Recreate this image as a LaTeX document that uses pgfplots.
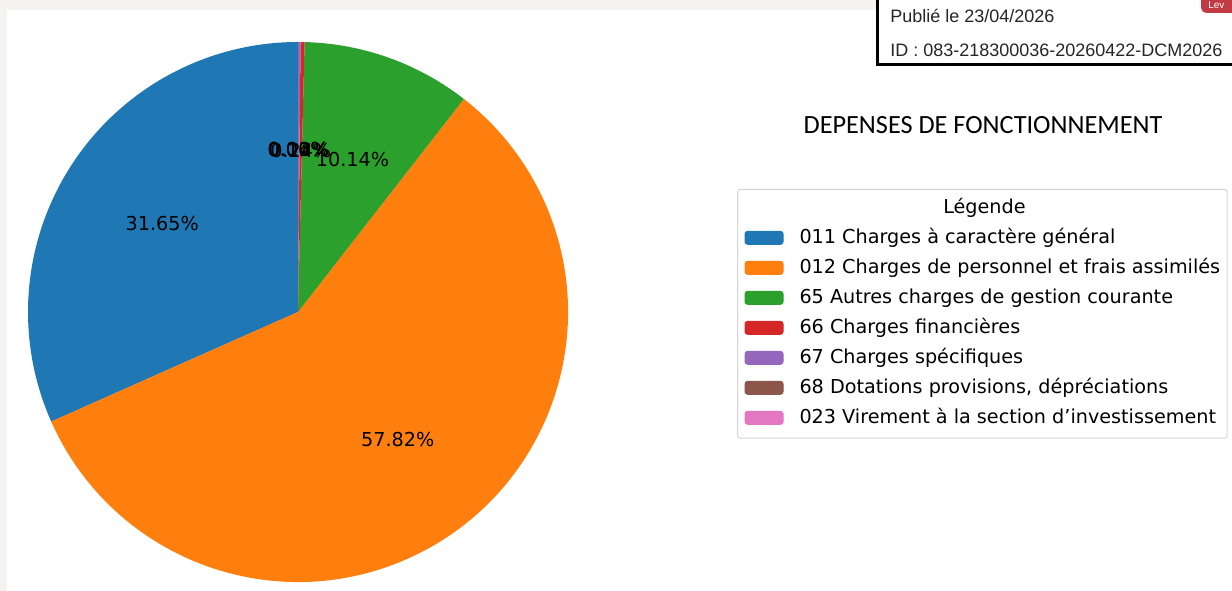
\documentclass[border=0pt]{standalone}
\usepackage{fontspec}
\setmainfont{DejaVu Sans}
\newfontfamily\carlito{Carlito}
\newfontfamily\libsans{Liberation Sans}
\usepackage{pgfplots}
\usepackage{pgfplotstable}
\pgfplotsset{compat=1.18}
\pgfkeys{/pgf/number format/assume math mode=true}

\definecolor{c0}{HTML}{1F77B4}
\definecolor{c1}{HTML}{FF7F0E}
\definecolor{c2}{HTML}{2CA02C}
\definecolor{c3}{HTML}{D62728}
\definecolor{c4}{HTML}{9467BD}
\definecolor{c5}{HTML}{8C564B}
\definecolor{c6}{HTML}{E377C2}
\definecolor{pagegray}{HTML}{F4F3F1}
\definecolor{badgered}{HTML}{C23A44}
\definecolor{legframe}{HTML}{D6D6D6}

% shares (%) of each chapter, in legend order
\pgfplotstableread{
pct
31.65
57.82
10.14
0.24
0.14
0.00
0.01
}\piedata

\begin{document}
\begin{tikzpicture}[x=0.75pt,y=0.75pt]
\useasboundingbox (0,0) rectangle (1232,591);
\fill[pagegray] (0,0) rectangle (1232,591);
\fill[white] (7,0) rectangle (1232,581);

% watermark box
\draw[black, line width=2.25pt, fill=white] (877,591-64.5) rectangle (1245,600);
\fill[badgered, rounded corners=4pt] (1201,591-13) rectangle (1250,600);
\node[anchor=base west, inner sep=0pt, text=white, font=\libsans\fontsize{7.5}{8}\selectfont] at (1208,591-9) {Lev};
\node[anchor=base west, inner sep=0pt, font=\libsans\fontsize{13.5}{16}\selectfont, text=black!85] at (890,591-22.5) {Publié le 23/04/2026};
\node[anchor=base west, inner sep=0pt, font=\libsans\fontsize{13.5}{16}\selectfont, text=black!85] at (890,591-57) {ID : 083-218300036-20260422-DCM2026};

% title
\node[font=\carlito\fontsize{19.7}{24}\selectfont, inner sep=0pt] at (983,591-125) {DEPENSES DE FONCTIONNEMENT};

\begin{axis}[
  at={(223.5pt,209.25pt)}, anchor=center,
  scale only axis, width=405pt, height=405pt,
  xmin=-1, xmax=1, ymin=-1, ymax=1,
  hide axis, clip=false,
  legend cell align=left,
  legend style={
    at={(1.3130,0.7278)}, anchor=north west,
    draw=legframe, line width=0.75pt, fill=white, rounded corners=2pt,
    inner xsep=5.25pt, inner ysep=7.2pt,
    font=\fontsize{14.4}{17}\selectfont,
    column sep=12pt, row sep=7.9pt,
    nodes={inner sep=0pt, text height=11pt, text depth=3.6pt},
  },
]
\pgfplotsextra{
  \pgfplotstablegetrowsof{\piedata}
  \pgfmathtruncatemacro\lastrow{\pgfplotsretval-1}
  \xdef\angA{90}
  \foreach \i in {0,...,\lastrow}{
    \pgfplotstablegetelem{\i}{pct}\of\piedata
    \pgfmathsetmacro\angB{\angA+3.6*\pgfplotsretval}
    \fill[c\i] (axis cs:0,0) -- ++(\angA:202.5pt) arc[start angle=\angA, end angle=\angB, radius=202.5pt] -- cycle;
    \xdef\angA{\angB}
  }
  \xdef\angA{90}
  \foreach \i in {0,...,\lastrow}{
    \pgfplotstablegetelem{\i}{pct}\of\piedata
    \let\v\pgfplotsretval
    \pgfmathsetmacro\angB{\angA+3.6*\v}
    \pgfmathsetmacro\angM{(\angA+\angB)/2}
    \node[font=\fontsize{14.4}{17}\selectfont, inner sep=0pt] at ([shift={(\angM:121.5pt)}]axis cs:0,0)
      {\pgfmathprintnumber[fixed,fixed zerofill,precision=2]{\v}\%};
    \xdef\angA{\angB}
  }
}
\addlegendimage{empty legend}
\addlegendentry{\hspace*{107.8pt}Légende}
\addlegendimage{legend image code/.code={\fill[c0] (0pt,-4.1pt) rectangle (28.5pt,5.6pt);}}
\addlegendentry{011 Charges à caractère général}
\addlegendimage{legend image code/.code={\fill[c1] (0pt,-4.1pt) rectangle (28.5pt,5.6pt);}}
\addlegendentry{012 Charges de personnel et frais assimilés}
\addlegendimage{legend image code/.code={\fill[c2] (0pt,-4.1pt) rectangle (28.5pt,5.6pt);}}
\addlegendentry{65 Autres charges de gestion courante}
\addlegendimage{legend image code/.code={\fill[c3] (0pt,-4.1pt) rectangle (28.5pt,5.6pt);}}
\addlegendentry{66 Charges financières}
\addlegendimage{legend image code/.code={\fill[c4] (0pt,-4.1pt) rectangle (28.5pt,5.6pt);}}
\addlegendentry{67 Charges spécifiques}
\addlegendimage{legend image code/.code={\fill[c5] (0pt,-4.1pt) rectangle (28.5pt,5.6pt);}}
\addlegendentry{68 Dotations provisions, dépréciations}
\addlegendimage{legend image code/.code={\fill[c6] (0pt,-4.1pt) rectangle (28.5pt,5.6pt);}}
\addlegendentry{023 Virement à la section d’investissement}
\end{axis}
\end{tikzpicture}
\end{document}
